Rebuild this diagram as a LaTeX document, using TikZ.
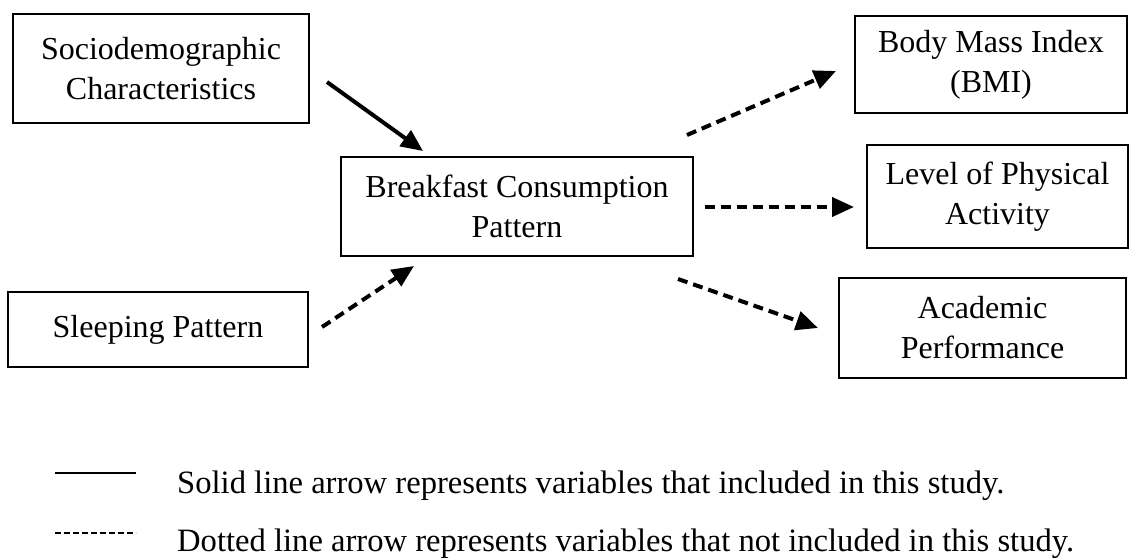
\documentclass[tikz,border=0pt]{standalone}
\usepackage{fontspec}
\setmainfont{Liberation Serif}
\usetikzlibrary{arrows.meta}
\begin{document}
\begin{tikzpicture}[x=1pt,y=-1pt,
  box/.style={draw=black,line width=2pt,rectangle,align=center,inner sep=0pt,
    font=\fontsize{32}{40}\selectfont},
  solidarrow/.style={line width=4pt,-{Triangle[length=22pt,width=19pt]}},
  dasharrow/.style={line width=4pt,dash pattern=on 10pt off 6pt,-{Triangle[length=22pt,width=19pt]}},
  legtext/.style={anchor=base west,inner sep=0pt,font=\fontsize{32.6}{40}\selectfont}]
\useasboundingbox (0,0) rectangle (1129,559);
\node[box,minimum width=296pt,minimum height=109pt] (socio) at (161,68.5) {Sociodemographic\\Characteristics};
\node[box,minimum width=352pt,minimum height=99pt] (bcp) at (517,206.5) {Breakfast Consumption\\Pattern};
\node[box,minimum width=300pt,minimum height=75pt] (sleep) at (158,329.5) {Sleeping Pattern};
\node[box,minimum width=272pt,minimum height=97pt] (bmi) at (991,64.5) {Body Mass Index\\(BMI)};
\node[box,minimum width=261pt,minimum height=103pt] (lpa) at (997.5,196.5) {Level of Physical\\Activity};
\node[box,minimum width=287pt,minimum height=100pt] (acad) at (982.5,328) {Academic\\Performance};
% arrow end points
\coordinate (s1) at (327,82);   \coordinate (e1) at (423,151);
\coordinate (s2) at (322,327);  \coordinate (e2) at (414,266);
\coordinate (s3) at (687,135);  \coordinate (e3) at (836,71);
\coordinate (s4) at (705,207);  \coordinate (e4) at (854,207);
\coordinate (s5) at (678,279);  \coordinate (e5) at (818,328);
\draw[solidarrow] (s1) -- (e1);
\draw[dasharrow] (s2) -- (e2);
\draw[dasharrow] (s3) -- (e3);
\draw[dasharrow] (s4) -- (e4);
\draw[dasharrow] (s5) -- (e5);
% legend
\coordinate (la) at (55,473); \coordinate (lb) at (136,473);
\coordinate (lc) at (55,533); \coordinate (ld) at (136,533);
\draw[line width=2.5pt] (la) -- (lb);
\draw[line width=1.6pt,dash pattern=on 6pt off 3pt] (lc) -- (ld);
\node[legtext] (leg1) at (177,493) {Solid line arrow represents variables that included in this study.};
\node[legtext] (leg2) at (177,551) {Dotted line arrow represents variables that not included in this study.};
\end{tikzpicture}
\end{document}
